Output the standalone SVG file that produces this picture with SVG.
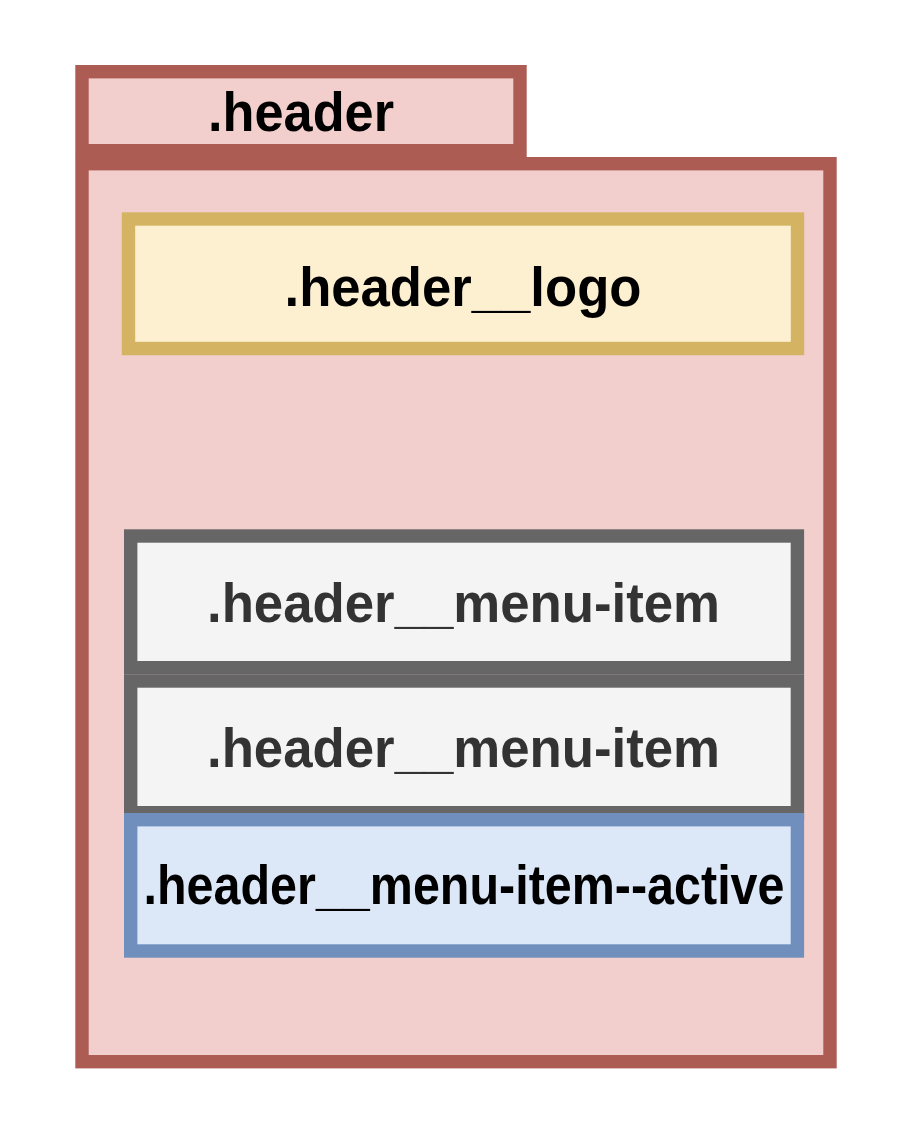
<svg xmlns="http://www.w3.org/2000/svg" width="920" height="1122" viewBox="0 0 920 1122">
<style>
.red{fill:#f2cfcd;stroke:#ad5c54;stroke-width:13.4}
.yel{fill:#fdf0d0;stroke:#d4b462;stroke-width:13.4}
.gry{fill:#f4f4f4;stroke:#666666;stroke-width:13.4}
.blu{fill:#dce7f8;stroke:#708fbc;stroke-width:13.4}
text{font-family:"Liberation Sans",Arial,sans-serif;font-weight:bold;font-size:56px;text-anchor:middle}
.dk{fill:#000000}
.gt{fill:#333333}
</style>
<rect width="920" height="1122" fill="#ffffff"/>
<g id="header-tab">
<rect class="red" x="82" y="71.7" width="438" height="79"/>
<text class="dk" x="301" y="131" textLength="186" lengthAdjust="spacingAndGlyphs">.header</text>
</g>
<g id="header-body">
<rect class="red" x="82" y="163.7" width="748" height="898"/>
</g>
<g id="header-logo">
<rect class="yel" x="128.5" y="219" width="669" height="129.5"/>
<text class="dk" x="463" y="306" textLength="357" lengthAdjust="spacingAndGlyphs">.header__logo</text>
</g>
<g id="menu-item-1">
<rect class="gry" x="130.7" y="536" width="666.7" height="131.7"/>
<text class="gt" x="463.5" y="622" textLength="513" lengthAdjust="spacingAndGlyphs">.header__menu-item</text>
</g>
<g id="menu-item-2">
<rect class="gry" x="130.7" y="681" width="666.7" height="131.7"/>
<text class="gt" x="463.5" y="767" textLength="513" lengthAdjust="spacingAndGlyphs">.header__menu-item</text>
</g>
<g id="menu-item-active">
<rect class="blu" x="130.7" y="819.7" width="666.7" height="131.3"/>
<text class="dk" x="464" y="904" textLength="641" lengthAdjust="spacingAndGlyphs">.header__menu-item--active</text>
</g>
<g id="connectors"></g>
</svg>
